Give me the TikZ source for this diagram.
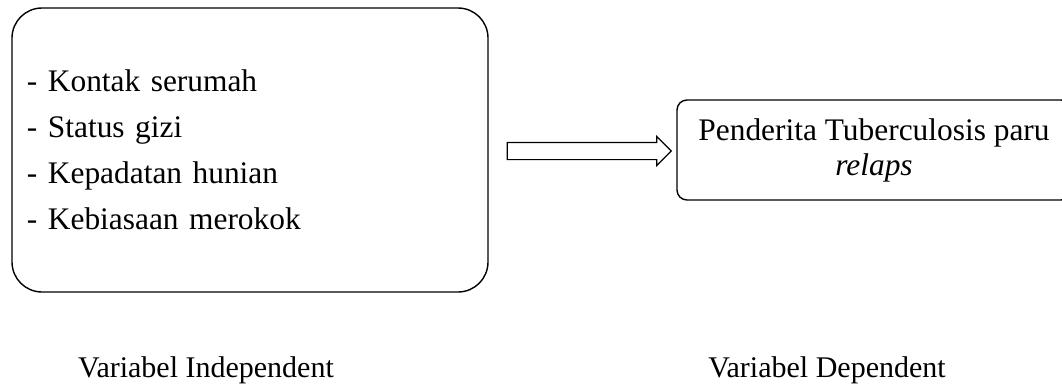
\documentclass[tikz,border=0pt]{standalone}
\usepackage{fontspec}
\setmainfont{Liberation Serif}
\usetikzlibrary{positioning,shapes.arrows}

\begin{document}
\begin{tikzpicture}[
		x=1pt, y=-1pt,
		every node/.style = {font=\fontsize{31.4}{46}\selectfont},
		indep/.style = {draw, line width=1.4pt, rounded corners=30pt, minimum width=476pt, minimum height=284pt, text width=446pt, inner xsep=15pt, align=left},
		dep/.style = {draw, line width=1.4pt, rounded corners=10pt, minimum width=394pt, minimum height=100pt, align=center, font=\fontsize{31.4}{35}\selectfont},
		flow/.style = {draw, line width=1.2pt, single arrow, single arrow head extend=6pt, single arrow tip angle=90, minimum height=164pt, inner sep=8pt},
		caption/.style = {font=\fontsize{30}{36}\selectfont}
	]
	\useasboundingbox (0,0) rectangle (1062,391);
	% Boxes.
	\node[indep] (iv) at (250,150) {- Kontak serumah\\- Status gizi\\- Kepadatan hunian\\- Kebiasaan merokok};
	\node[dep] (dv) at (874,150) {Penderita Tuberculosis paru\\\textit{relaps}};
	% Arrow between them.
	\node[flow] (ar) at (585,151) {};
	% Captions.
	\node[caption] (ivlabel) at (206,370) {Variabel Independent};
	\node[caption] (dvlabel) at (827,370) {Variabel Dependent};
\end{tikzpicture}
\end{document}
